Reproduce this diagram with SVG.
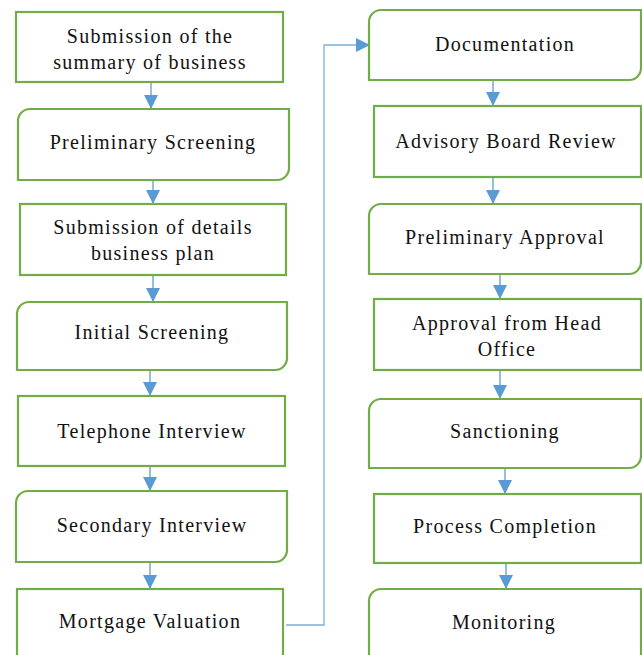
<svg xmlns="http://www.w3.org/2000/svg" width="642" height="655" viewBox="0 0 642 655">
<defs>
<style>
.box{fill:#fff;stroke:#70AD47;stroke-width:2.2}
.t{font-family:"Liberation Serif","Times New Roman",serif;font-size:20px;letter-spacing:1.3px;fill:#111;text-anchor:middle}
.c{fill:none;stroke:#5B9BD5;stroke-width:1.3}
.c2{fill:none;stroke:#7FAEDF;stroke-width:1.3}
</style>
<marker id="ah" markerUnits="userSpaceOnUse" markerWidth="16" markerHeight="16" refX="14" refY="7" orient="auto">
<path d="M0,0 L14,7 L0,14 Z" fill="#5B9BD5"/>
</marker>
</defs>
<rect width="642" height="655" fill="#fff"/>
<g id="connectors">
<line class="c" x1="151" y1="82" x2="151" y2="109" marker-end="url(#ah)"/>
<line class="c" x1="153" y1="180" x2="153" y2="204" marker-end="url(#ah)"/>
<line class="c" x1="153" y1="275" x2="153" y2="302" marker-end="url(#ah)"/>
<line class="c" x1="150" y1="370" x2="150" y2="396" marker-end="url(#ah)"/>
<line class="c" x1="150" y1="466" x2="150" y2="491" marker-end="url(#ah)"/>
<line class="c" x1="150" y1="562" x2="150" y2="589" marker-end="url(#ah)"/>
<line class="c" x1="493" y1="80" x2="493" y2="106" marker-end="url(#ah)"/>
<line class="c" x1="493" y1="177" x2="493" y2="204" marker-end="url(#ah)"/>
<line class="c" x1="500" y1="274" x2="500" y2="299" marker-end="url(#ah)"/>
<line class="c" x1="500" y1="370" x2="500" y2="399" marker-end="url(#ah)"/>
<line class="c" x1="505" y1="468" x2="505" y2="494" marker-end="url(#ah)"/>
<line class="c" x1="506" y1="563" x2="506" y2="589" marker-end="url(#ah)"/>
<polyline class="c2" points="286,625 324,625 324,45 370,45" marker-end="url(#ah)"/>
</g>
<g id="n1"><rect class="box" x="16" y="12" width="267" height="70"/><text class="t" x="150" y="43">Submission of the</text><text class="t" x="150" y="69">summary of business</text></g>
<g id="n2"><path class="box" d="M18,121 A12,12 0 0 1 30,109 H289 V168 A12,12 0 0 1 277,180 H18 Z"/><text class="t" x="153" y="149">Preliminary Screening</text></g>
<g id="n3"><rect class="box" x="20" y="204" width="266" height="71"/><text class="t" x="153" y="234">Submission of details</text><text class="t" x="153" y="260">business plan</text></g>
<g id="n4"><path class="box" d="M17,314 A12,12 0 0 1 29,302 H287 V358 A12,12 0 0 1 275,370 H17 Z"/><text class="t" x="152" y="339">Initial Screening</text></g>
<g id="n5"><rect class="box" x="18" y="396" width="267" height="70"/><text class="t" x="152" y="438">Telephone Interview</text></g>
<g id="n6"><path class="box" d="M16,503 A12,12 0 0 1 28,491 H287 V550 A12,12 0 0 1 275,562 H16 Z"/><text class="t" x="152" y="532">Secondary Interview</text></g>
<g id="n7"><rect class="box" x="17" y="589" width="266" height="80"/><text class="t" x="150" y="628">Mortgage Valuation</text></g>
<g id="n8"><path class="box" d="M369,22 A12,12 0 0 1 381,10 H641 V68 A12,12 0 0 1 629,80 H369 Z"/><text class="t" x="505" y="51">Documentation</text></g>
<g id="n9"><rect class="box" x="374" y="106" width="267" height="71"/><text class="t" x="506" y="148">Advisory Board Review</text></g>
<g id="n10"><path class="box" d="M369,216 A12,12 0 0 1 381,204 H641 V262 A12,12 0 0 1 629,274 H369 Z"/><text class="t" x="505" y="244">Preliminary Approval</text></g>
<g id="n11"><rect class="box" x="374" y="299" width="267" height="71"/><text class="t" x="507" y="330">Approval from Head</text><text class="t" x="507" y="356">Office</text></g>
<g id="n12"><path class="box" d="M369,411 A12,12 0 0 1 381,399 H641 V456 A12,12 0 0 1 629,468 H369 Z"/><text class="t" x="505" y="438">Sanctioning</text></g>
<g id="n13"><rect class="box" x="374" y="494" width="267" height="69"/><text class="t" x="505" y="533">Process Completion</text></g>
<g id="n14"><path class="box" d="M369,601 A12,12 0 0 1 381,589 H641 V660 A12,12 0 0 1 629,672 H369 Z"/><text class="t" x="504" y="629">Monitoring</text></g>
</svg>
